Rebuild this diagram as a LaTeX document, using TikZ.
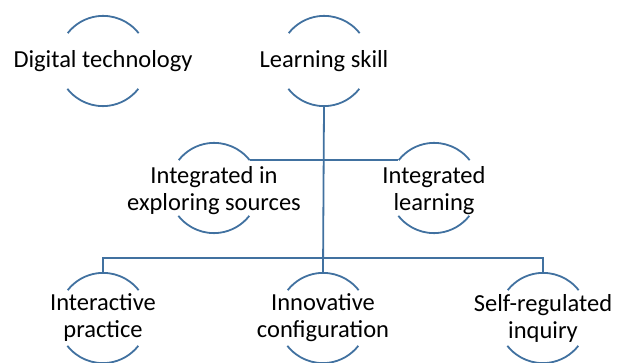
\documentclass[tikz,border=0pt]{standalone}
\usepackage{fontspec}
\setmainfont{Carlito}
\usetikzlibrary{positioning}

\definecolor{linkblue}{RGB}{65,113,160}

\tikzset{
  ring/.style={circle, minimum size=90pt, inner sep=0pt},
  lbl/.style={align=center, font=\fontsize{24.5}{27}\selectfont, inner sep=0pt},
  link/.style={draw=linkblue, line width=1.8pt},
}
% top and bottom arcs of a ring
\newcommand{\ringarcs}[1]{%
  \draw[link] (#1.38) arc[start angle=38, end angle=142, radius=45pt];
  \draw[link] (#1.218) arc[start angle=218, end angle=322, radius=45pt];
}

\begin{document}
\begin{tikzpicture}[x=1pt, y=-1pt]
  \useasboundingbox (0,0) rectangle (628,363);

  % rings
  \node[ring] (dt) at (103,61) {};
  \node[ring] (ls) at (324,61) {};
  \node[ring] (ies) at (214,188) {};
  \node[ring] (il) at (434,188) {};
  \node[ring] (ip) at (103,318) {};
  \node[ring] (ic) at (323,318) {};
  \node[ring] (sri) at (543,318) {};

  % labels
  \node[lbl] (dt-t) at (dt) {Digital technology};
  \node[lbl] (ls-t) at (ls) {Learning skill};
  \node[lbl] (ies-t) at ([yshift=-3pt]ies.center) {Integrated in\\exploring sources};
  \node[lbl] (il-t) at ([yshift=-3pt]il.center) {Integrated\\learning};
  \node[lbl] (ip-t) at (ip) {Interactive\\practice};
  \node[lbl] (ic-t) at (ic) {Innovative\\configuration};
  \node[lbl] (sri-t) at (sri) {Self-regulated\\inquiry};

  \foreach \r in {dt,ls,ies,il,ip,ic,sri} {\ringarcs{\r}}

  % connectors
  \coordinate (bar) at (ls.south |- 0,258);
  \draw[link] (ls.south) -- (ic.north);
  \draw[link] (ies.38) -- (il.142);
  \draw[link] (ip.north) |- (bar) -| (sri.north);
\end{tikzpicture}
\end{document}
